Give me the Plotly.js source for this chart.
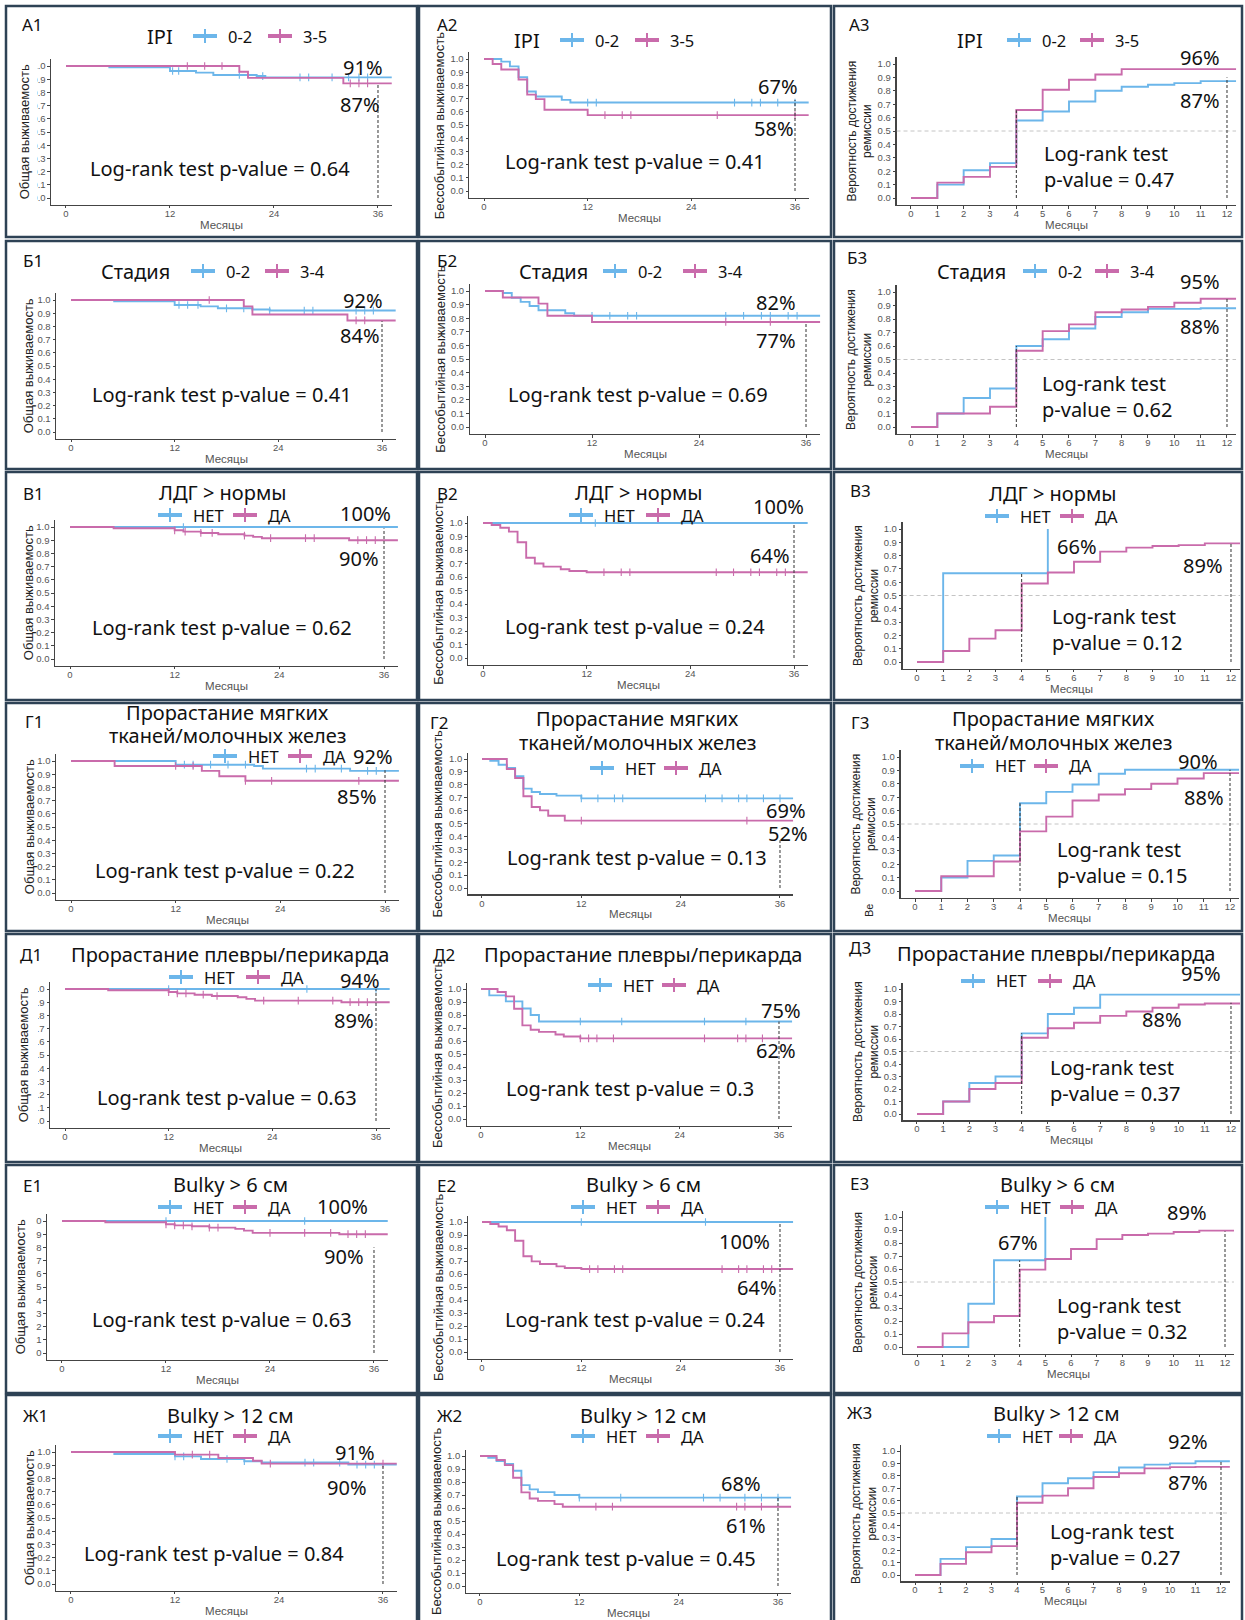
<!DOCTYPE html>
<html><head><meta charset="utf-8">
<script src="https://cdn.plot.ly/plotly-3.0.1.min.js"></script>
<style>html,body{margin:0;padding:0;background:#fff}#chart{width:1245px;height:1620px}</style>
</head><body><div id="chart"></div>
<script>
const W = 1245, H = 1620;
// ================= DATA =================
const panelIds = ['А1','А2','А3','Б1','Б2','Б3','В1','В2','В3','Г1','Г2','Г3','Д1','Д2','Д3','Е1','Е2','Е3','Ж1','Ж2','Ж3'];
const rowTitles = [['IPI'],['Стадия'],['ЛДГ > нормы'],['Прорастание мягких','тканей/молочных желез'],['Прорастание плевры/перикарда'],['Bulky > 6 см'],['Bulky > 12 см']];
const groupLabels = [['0-2','3-5'],['0-2','3-4'],['НЕТ','ДА'],['НЕТ','ДА'],['НЕТ','ДА'],['НЕТ','ДА'],['НЕТ','ДА']];
const yTitles = ['Общая выживаемость','Бессобытийная выживаемость','Вероятность достижения<br>ремиссии'];
const xTitle = 'Месяцы';
const pValues = ['0.64','0.41','0.47','0.41','0.69','0.62','0.62','0.24','0.12','0.22','0.13','0.15','0.63','0.3','0.37','0.63','0.24','0.32','0.84','0.45','0.27'];
const pctLabels = [['91%','87%'],['67%','58%'],['96%','87%'],['92%','84%'],['82%','77%'],['95%','88%'],['100%','90%'],['100%','64%'],['66%','89%'],['92%','85%'],['69%','52%'],['90%','88%'],['94%','89%'],['75%','62%'],['95%','88%'],['100%','90%'],['100%','64%'],['67%','89%'],['91%','90%'],['68%','61%'],['92%','87%']];
const osTicks = [0,12,24,36];
const remTicks = [0,1,2,3,4,5,6,7,8,9,10,11,12];
const yTicks = [0,0.1,0.2,0.3,0.4,0.5,0.6,0.7,0.8,0.9,1.0];
const refTimesOS = [36];
const refTimesRem = [4,12];
const refLineTops = [[.86],[.69],[.655,.9],[.84],[.77],[.6,.95],[.99],[1],[.667,.9],[.93],[.37],[.655,.905],[1],[.75],[.645,.89],[.8],[1],[.667,.89],[.9],[.68],[.63,.92]];

// step curves: [group0 (blue), group1 (pink)] ; t = step times, s = value after step, c = censor times
const A1_t = [[0,5,12,15,17,22,23],[0,20,21,32]];
const A1_s = [[1,.99,.962,.95,.932,.924,.914],[1,.956,.91,.868]];
const A1_c = [[12.3,13,20,22.7,27,28,30.7,32.6,33.8,34.8],[14,16,18,32.8,33.8,34.8]];
const A2_t = [[0,2,3,4,5,6,9,10],[0,1,2,4,5,6,7,12]];
const A2_s = [[1,.98,.944,.863,.754,.716,.69,.67],[1,.962,.92,.845,.73,.696,.615,.575]];
const A2_c = [[12,13,29,31,32,34,36],[14,16,17,27,36]];
const A3_t = [[0,1,2,3,4,5,6,7,8,9,10,11],[0,1,2,3,4,5,6,7,8]];
const A3_s = [[0,.10,.207,.26,.578,.645,.72,.80,.83,.845,.857,.872],[0,.115,.158,.232,.657,.808,.883,.922,.962]];
const B1_t = [[0,5,12,15,17,21,23],[0,20,21,32]];
const B1_s = [[1,.99,.962,.952,.937,.928,.92],[1,.952,.89,.845]];
const B1_c = [[12.5,13.5,14.7,18,20,23,27,28,33,34,35],[16,33,34]];
const B2_t = [[0,2,3,4,5,6,9,10],[0,2,6,7,12]];
const B2_s = [[1,.985,.95,.92,.89,.858,.836,.818],[1,.952,.907,.818,.772]];
const B2_c = [[12,14,16,17,27,29,31,32,34,35],[27,32]];
const B3_t = [[0,1,2,3,4,5,6,7,8,9,11],[0,1,3,4,5,6,7,8,9,10,11]];
const B3_s = [[0,.10,.215,.285,.60,.65,.73,.815,.85,.875,.88],[0,.10,.15,.565,.71,.76,.85,.87,.89,.92,.95]];
const V1_t = [[0],[0,5,12,13,15,17,20,21,22,32]];
const V1_s = [[1],[1,.99,.975,.965,.955,.945,.935,.925,.915,.9]];
const V1_c = [[13],[12,13.2,15,16.3,20,23,27,28,33,34,35]];
const V2_t = [[0],[0,1,2,3,4,5,6,7,9,10,12]];
const V2_s = [[1],[1,.985,.965,.936,.857,.743,.70,.677,.657,.644,.635]];
const V2_c = [[13],[14,16,17,27,29,31,32,34,35]];
const V3_t = [[0,1,5],[0,1,2,3,4,5,6,7,8,9,10,11]];
const V3_s = [[0,.667,1],[0,.083,.176,.239,.59,.673,.754,.83,.86,.872,.879,.892]];
const G1_t = [[0,12,21,22,32],[0,5,15,17,20]];
const G1_s = [[1,.972,.962,.942,.925],[1,.962,.925,.884,.85]];
const G1_c = [[13,14,16,18,20,27,28,31,34,35],[12,14,20,23,33]];
const G2_t = [[0,1,2,3,4,5,6,7,9,12],[0,3,4,5,6,7,8,10]];
const G2_s = [[1,.987,.956,.93,.866,.77,.744,.729,.716,.695],[1,.922,.853,.711,.628,.602,.56,.522]];
const G2_c = [[12,14,16,17,27,29,31,32,34,36],[12,32]];
const G3_t = [[0,1,2,3,4,5,6,7,8],[0,1,3,4,5,6,7,8,9,10,11]];
const G3_s = [[0,.10,.225,.265,.655,.74,.795,.875,.905],[0,.11,.22,.445,.555,.675,.72,.76,.80,.84,.88]];
const D1_t = [[0],[0,5,12,13,15,17,20,21,22,32]];
const D1_s = [[1],[1,.99,.977,.967,.957,.947,.937,.925,.912,.9]];
const D1_c = [[12,28,36],[12,13,14,16,17.6,23,27,31,33,34,35]];
const D2_t = [[0,1,3,5,6,7],[0,2,3,4,5,6,7,9,10,12]];
const D2_s = [[1,.951,.905,.85,.80,.75],[1,.977,.943,.848,.72,.686,.67,.65,.635,.62]];
const D2_c = [[12,17,27,32],[12,13,14,16,27,31,32,34]];
const D3_t = [[0,1,2,3,4,5,6,7],[0,1,2,3,4,5,6,7,8,9,10,11]];
const D3_s = [[0,.10,.248,.30,.645,.80,.85,.955],[0,.10,.20,.248,.61,.686,.73,.785,.82,.85,.876,.884]];
const E1_t = [[0],[0,5,12,13,15,17,20,21,22,32]];
const E1_s = [[1],[1,.99,.975,.967,.96,.95,.94,.927,.91,.9]];
const E1_c = [[12,28],[12,13,14,15,17,18,24,28,31,33,34,35]];
const E2_t = [[0],[0,1,2,3,4,5,6,7,9,10,12]];
const E2_s = [[1],[1,.985,.965,.936,.856,.736,.697,.677,.659,.646,.638]];
const E2_c = [[12,27],[13,14,16,17,29,31,32,34,35]];
const E3_t = [[0,2,3,5],[0,1,2,3,4,5,6,7,8,9,10,11]];
const E3_s = [[0,.333,.667,1],[0,.105,.19,.238,.595,.677,.754,.83,.862,.872,.885,.895]];
const Z1_t = [[0,5,12,15,20,22,32],[0,12,17,21,22]];
const Z1_s = [[1,.985,.967,.947,.93,.92,.904],[1,.98,.955,.934,.912]];
const Z1_c = [[12,13,18,20,27,28,31,33,34,35],[14,16,23,36]];
const Z2_t = [[0,1,2,3,4,5,6,7,9,12],[0,2,3,4,5,6,7,9,10]];
const Z2_s = [[1,.987,.961,.938,.887,.776,.743,.722,.70,.68],[1,.969,.93,.833,.72,.673,.655,.63,.61]];
const Z2_c = [[12,17,27,29,32,34,36],[14,16,31,32,34]];
const Z3_t = [[0,1,2,3,4,5,6,7,8,9,10,11],[0,1,2,3,4,5,6,7,8,9,10,11]];
const Z3_s = [[0,.13,.225,.29,.633,.74,.78,.83,.867,.89,.90,.917],[0,.09,.183,.233,.583,.64,.70,.79,.82,.86,.87,.872]];
const noCens = [[],[]];

const panelCurves = [
  [A1_t,A1_s,A1_c],[A2_t,A2_s,A2_c],[A3_t,A3_s,noCens],
  [B1_t,B1_s,B1_c],[B2_t,B2_s,B2_c],[B3_t,B3_s,noCens],
  [V1_t,V1_s,V1_c],[V2_t,V2_s,V2_c],[V3_t,V3_s,noCens],
  [G1_t,G1_s,G1_c],[G2_t,G2_s,G2_c],[G3_t,G3_s,noCens],
  [D1_t,D1_s,D1_c],[D2_t,D2_s,D2_c],[D3_t,D3_s,noCens],
  [E1_t,E1_s,E1_c],[E2_t,E2_s,E2_c],[E3_t,E3_s,noCens],
  [Z1_t,Z1_s,Z1_c],[Z2_t,Z2_s,Z2_c],[Z3_t,Z3_s,noCens]
];

// ================= LAYOUT (pixel positions) =================
const framesX = [[6,417],[419,831],[834,1242]];
const framesY = [[6,237],[241,469],[472,700],[703,931],[934,1162],[1165,1393],[1395,1625]];
// [px of x=0, px of x=max tick, px of y=1, px of y=0]
const plotPx = [
  [66,378,66,198],[484,795,59,191],[911,1227,64,198],
  [71,382,300,432],[485,806,291,427],[911,1227,292,427],
  [70,384,527,659],[483,794,523,658],[917,1231,529,662],
  [71,385,761,893],[482,780,759,888],[915,1230,757,891],
  [65,376,989,1121],[481,779,989,1119],[917,1231,989,1114],
  [62,374,1221,1353],[482,780,1222,1352],[917,1225,1217,1347],
  [71,383,1452,1584],[480,778,1456,1586],[915,1221,1451,1575]
];
const labelPos = [[20,25],[435,25],[847,25],[21,260],[435,260],[845,257],[21,494],[435,494],[848,490],[23,721],[428,722],[849,722],[18,955],[431,955],[847,948],[21,1185],[435,1185],[848,1183],[21,1415],[435,1415],[845,1412]];
const titlePos = [[160,36],[527,40],[970,40],[135,271],[553,271],[971,271],[222,493],[638,493],[1052,494],[227,712],[637,719],[1053,719],[230,954],[643,954],[1056,953],[230,1184],[643,1184],[1057,1184],[230,1415],[643,1415],[1056,1413]];
const legendPos = [[193,268,36],[560,635,40],[1007,1080,40],[191,265,271],[603,683,271],[1023,1095,271],[158,233,515],[569,646,515],[985,1060,516],[213,288,756],[590,664,768],[960,1034,766],[169,246,977],[588,662,985],[961,1038,981],[158,233,1207],[571,646,1207],[985,1060,1207],[158,233,1436],[571,646,1436],[987,1059,1436]];
const pctPos = [[[363,68],[360,105]],[[778,87],[774,128]],[[1200,57],[1200,100]],[[363,301],[360,336]],[[776,303],[776,341]],[[1200,281],[1200,326]],[[365,513],[359,559]],[[778,507],[770,555]],[[1077,546],[1203,565]],[[373,757],[357,796]],[[786,810],[788,833]],[[1198,762],[1204,797]],[[360,980],[354,1020]],[[781,1010],[776,1050]],[[1201,974],[1162,1019]],[[343,1206],[344,1256]],[[744,1241],[757,1287]],[[1018,1242],[1187,1212]],[[355,1452],[347,1487]],[[741,1483],[746,1525]],[[1188,1441],[1188,1482]]];
const pvalPos = [[220,169],[635,162],[1042,166],[222,395],[638,395],[1040,396],[222,627],[635,626],[1050,630],[225,870],[637,857],[1055,862],[227,1097],[630,1088],[1048,1080],[222,1319],[635,1319],[1055,1318],[214,1553],[626,1558],[1048,1544]];
// panels whose y tick labels are cut off on the left in the source image: panel index -> right edge of cut (px)
const tickCut = {0:37, 12:38, 15:36};

const colors = ['#6cb6ea','#c96bab'];
const TXT = 'Noto Sans, Open Sans, sans-serif';
const AXF = 'Liberation Sans, Arial, sans-serif';
const X = v => v / W, Y = v => 1 - v / H;

const traces = [], shapes = [], annotations = [];
const layout = {width: W, height: H, margin: {l:0,r:0,t:0,b:0}, paper_bgcolor:'#ffffff', plot_bgcolor:'rgba(0,0,0,0)', showlegend:false, shapes, annotations};

function ann(x, y, text, size, extra) {
  annotations.push(Object.assign({xref:'paper', yref:'paper', x:X(x), y:Y(y), text, showarrow:false,
    xanchor:'center', yanchor:'middle', font:{family:TXT, size, color:'#111'}}, extra || {}));
}
const stepAt = (t, s, x) => { let v = s[0]; for (let k = 0; k < t.length; k++) if (t[k] <= x) v = s[k]; return v; };

// frames
framesY.forEach(fy => framesX.forEach(fx => shapes.push({type:'rect', xref:'paper', yref:'paper',
  x0:X(fx[0]), x1:X(fx[1]), y0:Y(fy[1]), y1:Y(fy[0]), line:{color:'#2e4255', width:2.5}, fillcolor:'rgba(0,0,0,0)', layer:'below'})));

for (let i = 0; i < 21; i++) {
  const row = Math.floor(i / 3), col = i % 3, rem = col === 2;
  const n = i + 1;
  const xr = n === 1 ? 'x' : 'x' + n, yr = n === 1 ? 'y' : 'y' + n;
  const [x0p, xEp, y1p, y0p] = plotPx[i];
  const tmax = rem ? 12 : 36;
  const xRange = rem ? [-0.55, 12.35] : [-1.7, 37.6];
  const yRange = [-0.05, 1.05];
  const ppx = (xEp - x0p) / tmax, ppy = y0p - y1p;
  const L = x0p + xRange[0] * ppx, R = x0p + xRange[1] * ppx;
  const T = y0p - yRange[1] * ppy, B = y0p - yRange[0] * ppy;
  const axCommon = {showline:true, linecolor:'#444', linewidth:1.3, ticks:'outside', ticklen:2.5, tickwidth:1, tickcolor:'#444',
    showgrid:false, zeroline:false, fixedrange:true, tickfont:{family:AXF, size:9.5, color:'#555'}};
  layout[n === 1 ? 'xaxis' : 'xaxis' + n] = Object.assign({}, axCommon, {domain:[X(L), X(R)], range:xRange, anchor:yr,
    tickmode:'array', tickvals: rem ? remTicks : osTicks, ticklabelstandoff:-3});
  layout[n === 1 ? 'yaxis' : 'yaxis' + n] = Object.assign({}, axCommon, {domain:[Y(B), Y(T)], range:yRange, anchor:xr,
    tickmode:'array', tickvals:yTicks, ticktext:yTicks.map(v => v.toFixed(1))});

  // reference lines
  if (rem) shapes.push({type:'line', xref:xr, yref:yr, x0:xRange[0], x1:xRange[1], y0:0.5, y1:0.5, line:{color:'#c4c4c4', width:1, dash:'4px,3px'}});
  (rem ? refTimesRem : refTimesOS).forEach((tt, k) => shapes.push({type:'line', xref:xr, yref:yr, x0:tt, x1:tt, y0:0, y1:refLineTops[i][k],
    line:{color:'#333', width:1, dash:'3px,2px'}}));

  // curves
  const [Tt, Ss, Cc] = panelCurves[i];
  for (let g = 0; g < 2; g++) {
    const t = Tt[g], s = Ss[g], c = Cc[g];
    const last = s[s.length - 1];
    const end = rem ? (last >= 1 ? t[t.length - 1] : 12.35) : 37.6;
    traces.push({type:'scatter', mode:'lines', x:[...t, end], y:[...s, last], xaxis:xr, yaxis:yr,
      line:{shape:'hv', color:colors[g], width:1.9}, hoverinfo:'skip'});
    if (c.length) traces.push({type:'scatter', mode:'markers', x:c, y:c.map(v => stepAt(t, s, v)), xaxis:xr, yaxis:yr,
      marker:{symbol:'line-ns-open', size:5.5, color:colors[g], line:{color:colors[g], width:1.1}}, hoverinfo:'skip'});
  }

  // cut-off tick labels (as in the source image)
  if (tickCut[i] !== undefined) shapes.push({type:'rect', xref:'paper', yref:'paper', x0:X(9), x1:X(tickCut[i]), y0:Y(B + 3), y1:Y(T - 6),
    fillcolor:'#ffffff', line:{width:0}, layer:'above'});

  // axis titles
  const gap = col === 2 ? 37 : (col === 1 ? 30 : 27);
  ann(L - gap, (T + B) / 2, yTitles[col], col === 2 ? 12 : 13, {textangle:-90, font:{family:AXF, size: col === 2 ? 12 : 13, color:'#222'}});
  ann((L + R) / 2, B + 20, xTitle, 11.5, {font:{family:AXF, size:11.5, color:'#555'}});

  // panel label
  ann(labelPos[i][0], labelPos[i][1], panelIds[i], 17, {xanchor:'left'});
  // title
  rowTitles[row].forEach((line, k) => ann(titlePos[i][0], titlePos[i][1] + k * 23, line, 20));
  // legend
  const [bx, pxs, ly] = legendPos[i];
  [bx, pxs].forEach((sx, g) => {
    shapes.push({type:'line', xref:'paper', yref:'paper', x0:X(sx), x1:X(sx + 24), y0:Y(ly), y1:Y(ly), line:{color:colors[g], width:4}});
    shapes.push({type:'line', xref:'paper', yref:'paper', x0:X(sx + 12), x1:X(sx + 12), y0:Y(ly - 7), y1:Y(ly + 7), line:{color:colors[g], width:2}});
    ann(sx + 33, ly, groupLabels[row][g], 16.5, {xanchor:'left'});
  });
  // percentages
  pctPos[i].forEach((p, k) => ann(p[0], p[1], pctLabels[i][k], 20));
  // p-value
  if (rem) ann(pvalPos[i][0], pvalPos[i][1], 'Log-rank test<br>p-value = ' + pValues[i], 20, {xanchor:'left', align:'left'});
  else ann(pvalPos[i][0], pvalPos[i][1], 'Log-rank test p-value = ' + pValues[i], 20);
}
// clipped fragment of a rotated label visible in panel Г3
ann(869, 911, 'Ве', 11, {textangle:-90, font:{family:AXF, size:11, color:'#222'}});

Plotly.newPlot('chart', traces, layout, {displayModeBar:false, staticPlot:true});
</script>
</body></html>
